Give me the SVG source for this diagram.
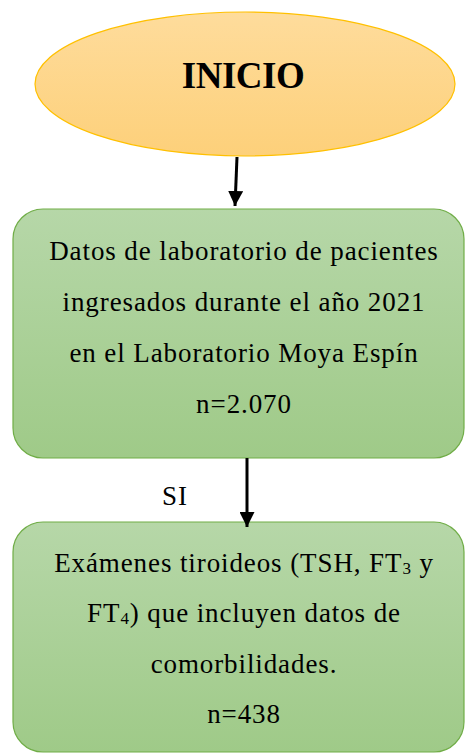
<svg xmlns="http://www.w3.org/2000/svg" width="465" height="754" viewBox="0 0 465 754">
<defs>
<linearGradient id="gOrange" x1="0" y1="0" x2="0" y2="1">
<stop offset="0" stop-color="#fedc9c"/>
<stop offset="1" stop-color="#fdd07a"/>
</linearGradient>
<linearGradient id="gGreen" x1="0" y1="0" x2="0" y2="1">
<stop offset="0" stop-color="#b6d7a8"/>
<stop offset="1" stop-color="#9fca88"/>
</linearGradient>
<marker id="arrow" viewBox="0 0 10 10" refX="10" refY="5" markerWidth="5" markerHeight="5" markerUnits="strokeWidth" orient="auto">
<path d="M0,0 L10,5 L0,10 z" fill="#000"/>
</marker>
</defs>
<style>
.t{font-family:"Liberation Serif","Times New Roman",serif;font-size:27px;letter-spacing:0.9px;fill:#000;text-anchor:middle}
.title{font-family:"Liberation Serif","Times New Roman",serif;font-size:37px;font-weight:bold;letter-spacing:-0.5px;fill:#000;text-anchor:middle}
.sub{font-size:17px}
.box{fill:url(#gGreen);stroke:#70ad47;stroke-width:1.2}
.conn{stroke:#000;stroke-width:3;fill:none}
</style>
<rect width="465" height="754" fill="#fff"/>
<g id="inicio">
<ellipse cx="245" cy="84" rx="210" ry="72" fill="url(#gOrange)" stroke="#ffc000" stroke-width="1.2"/>
<text x="243" y="88" class="title">INICIO</text>
</g>
<g id="datos">
<rect x="13" y="209" width="451" height="249" rx="30" ry="30" class="box"/>
<text x="244" y="260" class="t">Datos de laboratorio de pacientes</text>
<text x="244" y="311" class="t">ingresados durante el año 2021</text>
<text x="244" y="362" class="t">en el Laboratorio Moya Espín</text>
<text x="244" y="413" class="t">n=2.070</text>
</g>
<g id="examenes">
<rect x="13" y="522" width="451" height="230" rx="30" ry="30" class="box"/>
<text x="244" y="572" class="t">Exámenes tiroideos (TSH, FT<tspan class="sub" dy="2">3</tspan><tspan dy="-2"> y</tspan></text>
<text x="244" y="622" class="t">FT<tspan class="sub" dy="2">4</tspan><tspan dy="-2">) que incluyen datos de</tspan></text>
<text x="244" y="673" class="t">comorbilidades.</text>
<text x="244" y="723" class="t">n=438</text>
</g>
<g id="connectors">
<line x1="237" y1="157" x2="235" y2="206" class="conn" marker-end="url(#arrow)"/>
<line x1="247" y1="458" x2="247" y2="527" class="conn" marker-end="url(#arrow)"/>
<text x="175" y="505" class="t">SI</text>
</g>
</svg>
